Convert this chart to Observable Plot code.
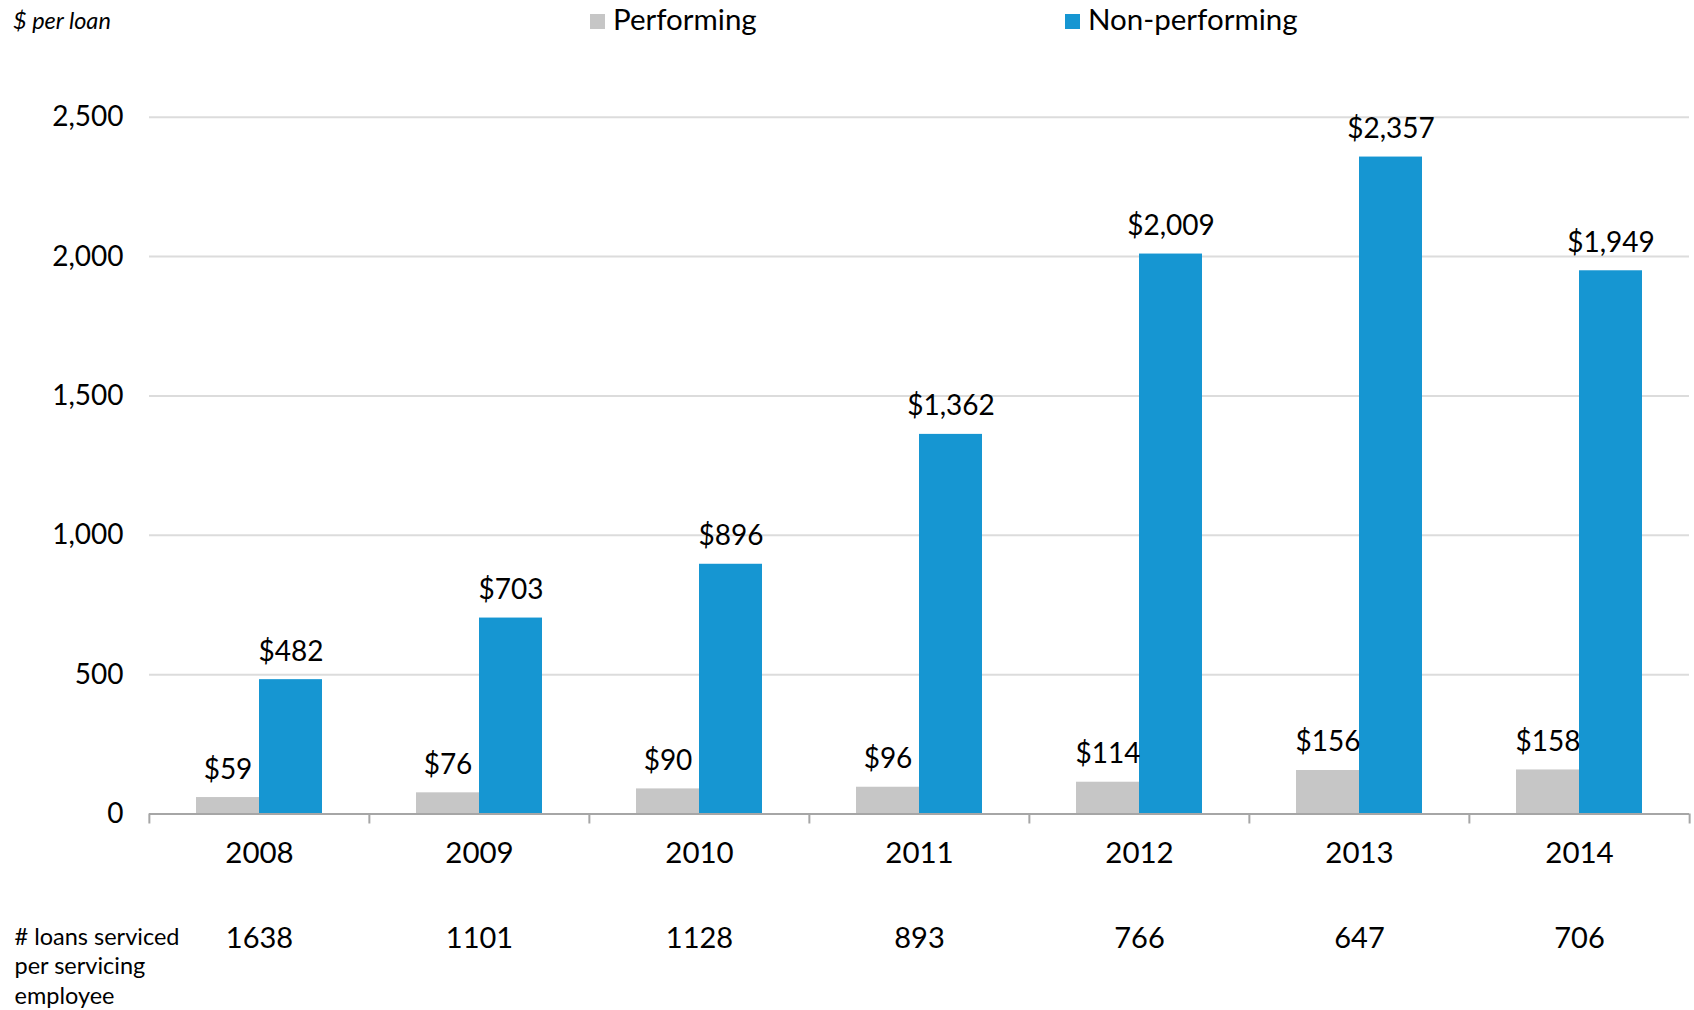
<!DOCTYPE html>
<html>
<head>
<meta charset="utf-8">
<script src="https://cdn.jsdelivr.net/npm/d3@7"></script>
<script src="https://cdn.jsdelivr.net/npm/@observablehq/plot@0.6"></script>
<style>
  html, body { margin: 0; padding: 0; background: #fff; }
  body { font-family: Lato, "Noto Sans", sans-serif; color: #000; }
  #wrap { width: 1694px; }
  #header { position: relative; height: 40px; }
  #unit { position: absolute; left: 13px; top: 6px; font-size: 23.5px; font-style: italic; line-height: 28px; }
  .leg { position: absolute; top: 2px; font-size: 29.5px; line-height: 34px; white-space: nowrap; }
  .sw { display: inline-block; width: 15px; height: 15px; margin-right: 8px; vertical-align: 1px; }
</style>
</head>
<body>
<div id="wrap">
  <div id="header">
    <div id="unit">$ per loan</div>
  </div>
  <div id="chart"></div>
</div>
<script>
const years = ["2008", "2009", "2010", "2011", "2012", "2013", "2014"];
const series = ["Performing", "Non-performing"];
const colors = ["#c6c6c6", "#1696d2"];
const performing = [59, 76, 90, 96, 114, 156, 158];
const nonPerforming = [482, 703, 896, 1362, 2009, 2357, 1949];
const loansPerEmployee = [1638, 1101, 1128, 893, 766, 647, 706];
const yTicks = [0, 500, 1000, 1500, 2000, 2500];
const rowLabel = "# loans serviced\nper servicing\nemployee";
const legendLeft = [590, 1065];

// legend
const header = document.getElementById("header");
series.forEach((s, i) => {
  const d = document.createElement("div");
  d.className = "leg";
  d.style.left = legendLeft[i] + "px";
  d.innerHTML = `<span class="sw" style="background:${colors[i]}"></span>${s}`;
  header.appendChild(d);
});

const rows = [];
years.forEach((y, i) => {
  rows.push({year: y, series: series[0], value: performing[i]});
  rows.push({year: y, series: series[1], value: nonPerforming[i]});
});
const counts = Object.fromEntries(years.map((y, i) => [y, loansPerEmployee[i]]));
const fmt = d3.format(",");

const W = 1694, H = 970, mL = 148, mR = 4, mT = 76.7, mB = 196.5;
const bw = (W - mL - mR) / years.length;

const chart = Plot.plot({
  width: W, height: H,
  marginLeft: mL, marginRight: mR, marginTop: mT, marginBottom: mB,
  style: {fontFamily: "Lato, 'Noto Sans', sans-serif", fontSize: "28px", color: "#000", background: "#fff"},
  fx: {domain: years, paddingInner: 0, paddingOuter: 0, axis: null, label: null},
  x: {domain: series, paddingInner: 0, paddingOuter: 0.738, axis: null, label: null},
  y: {domain: [0, 2500], axis: null, label: null},
  color: {domain: series, range: colors},
  marks: [
    Plot.gridY(yTicks.slice(1), {stroke: "#dcdcdc", strokeOpacity: 1, strokeWidth: 2}),
    Plot.barY(rows, {fx: "year", x: "series", y: "value", fill: "series"}),
    Plot.ruleY([0], {stroke: "#a6a6a6", strokeWidth: 2}),
    Plot.text(rows, {fx: "year", x: "series", y: "value", text: d => "$" + fmt(d.value), dy: -28, lineAnchor: "middle", fontSize: 28, fill: "#000"}),
    Plot.axisY({ticks: yTicks, tickSize: 0, tickPadding: 26, tickFormat: d => fmt(d), fontSize: 28, label: null}),
    Plot.axisFx({anchor: "bottom", tickSize: 0, tickPadding: 28, fontSize: 29.5, label: null}),
    Plot.axisFx({anchor: "bottom", tickSize: 0, tickPadding: 113, tickFormat: y => String(counts[y]), fontSize: 29, label: null}),
    Plot.axisFx({anchor: "bottom", tickSize: 10, fill: "none", stroke: "#a6a6a6", strokeWidth: 2, dx: -bw / 2, label: null}),
    Plot.axisFx({anchor: "bottom", ticks: [years[years.length - 1]], tickSize: 10, fill: "none", stroke: "#a6a6a6", strokeWidth: 2, dx: bw / 2, label: null}),
    Plot.text([{year: years[0], label: rowLabel}], {fx: "year", frameAnchor: "bottom-left", text: "label", textAnchor: "start", lineAnchor: "top", dx: -135, dy: 110, fontSize: 23.5, lineHeight: 1.25, fill: "#000"})
  ]
});
document.getElementById("chart").appendChild(chart);
</script>
</body>
</html>
